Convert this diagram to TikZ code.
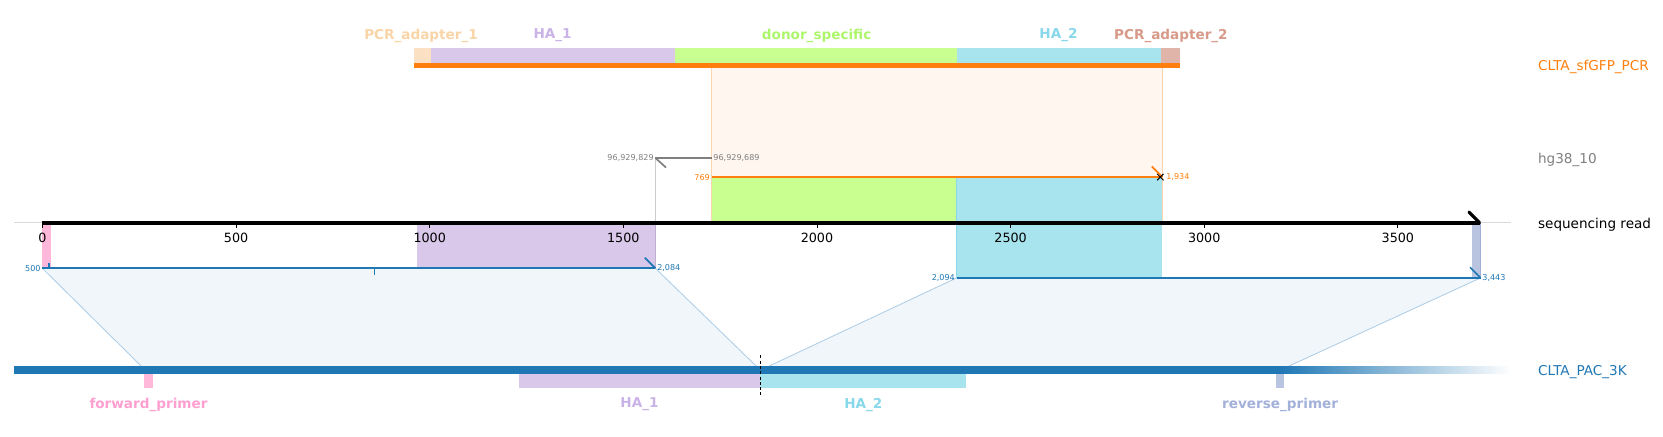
\documentclass[tikz,border=0pt]{standalone}
\usepackage{fontspec}
\setmainfont{DejaVu Sans}
\usepackage{xcolor}
\usetikzlibrary{positioning}

\definecolor{seqblue}{HTML}{1F77B4}
\definecolor{pcrorange}{HTML}{FF7F0E}
\definecolor{hggray}{HTML}{7F7F7F}
\definecolor{adaptone}{HTML}{FBE0C3}
\definecolor{adaptonetxt}{HTML}{F9D4A6}
\definecolor{haone}{HTML}{D9C8EA}
\definecolor{haonetxt}{HTML}{C9B2E6}
\definecolor{donor}{HTML}{C8FF90}
\definecolor{donortxt}{HTML}{ADF56A}
\definecolor{hatwo}{HTML}{A8E4EE}
\definecolor{hatwotxt}{HTML}{86D8EA}
\definecolor{adapttwo}{HTML}{E0B4A8}
\definecolor{adapttwotxt}{HTML}{D89A88}
\definecolor{fwd}{HTML}{FFB8DA}
\definecolor{fwdtxt}{HTML}{FF9FD0}
\definecolor{rev}{HTML}{B8C4E0}
\definecolor{revtxt}{HTML}{A2B0DA}
\definecolor{alnfill}{HTML}{F1F6FA}
\definecolor{alnedge}{HTML}{AECDE6}
\definecolor{pcrfill}{HTML}{FFF6EF}
\definecolor{pcredge}{HTML}{FFD3AE}

\begin{document}
\begin{tikzpicture}[x=1pt, y=-1pt,
    featlabel/.style={font=\fontsize{12.8}{14}\selectfont\bfseries, inner sep=0pt, yshift=-1.5pt},
    tracklabel/.style={font=\fontsize{12.8}{14}\selectfont, anchor=west, inner sep=0pt, yshift=-1.5pt},
    ticklabel/.style={font=\fontsize{12}{13}\selectfont, anchor=north, inner sep=0pt, yshift=-4pt},
    poslabel/.style={font=\fontsize{7.6}{8}\selectfont, inner sep=1.5pt},
    hook/.style={line width=1.6pt},
    alnline/.style={seqblue, line width=1.6pt}
]
    \useasboundingbox (0,0) rectangle (1568,412);

    % PCR product projected on the read
    \fill[pcrfill] (671,64) rectangle (1096,167);
    \fill[donor] (671,167) rectangle (902,210);
    \fill[hatwo] (902,167) rectangle (1096,262);
    \draw[pcredge, line width=0.8pt] (671,64) -- (671,210);
    \draw[pcredge, line width=0.8pt] (1096,64) -- (1096,210);
    \draw[black!20, line width=0.8pt] (618,149) -- (618,210);

    % Regions of the read below the axis
    \fill[fwd] (40,210) rectangle (48,253);
    \fill[haone] (393,210) rectangle (618,253);
    \draw[haonetxt!80!black!70, line width=0.6pt] (618,210) -- (618,253);
    \draw[hatwotxt, line width=0.6pt] (902,167) -- (902,262);
    \fill[rev] (1388,210) rectangle (1396,262);
    \draw[revtxt, line width=0.8pt] (1396,210) -- (1396,262);

    % Alignments onto CLTA_PAC_3K
    \coordinate (a1s) at (40,253);
    \coordinate (a1e) at (618,253);
    \coordinate (b1s) at (137,349);
    \coordinate (b1e) at (717,349);
    \coordinate (a2s) at (902,262);
    \coordinate (a2e) at (1396,262);
    \coordinate (b2e) at (1207,349);
    \fill[alnfill] (a1s) -- (a1e) -- (b1e) -- (b1s) -- cycle;
    \fill[alnfill] (a2s) -- (a2e) -- (b2e) -- (b1e) -- cycle;
    \draw[alnedge, line width=0.8pt] (a1s) -- (b1s);
    \draw[alnedge, line width=0.8pt] (a1e) -- (b1e);
    \draw[alnedge, line width=0.8pt] (a2s) -- (b1e);
    \draw[alnedge, line width=0.8pt] (a2e) -- (b2e);

    \draw[alnline] (a1s) -- (a1e);
    \draw[alnline] (a1e) -- ++(-10,-10);
    \draw[alnline] (46,253) -- ++(0,-5);
    \draw[alnline] (353,253) -- ++(0,6);
    \draw[alnline] (a2s) -- (a2e);
    \draw[alnline] (a2e) -- ++(-10,-10);
    \node[poslabel, anchor=east, text=seqblue] (p500) at (a1s) {500};
    \node[poslabel, anchor=west, text=seqblue] (p2084) at (a1e) {2,084};
    \node[poslabel, anchor=east, text=seqblue] (p2094) at (a2s) {2,094};
    \node[poslabel, anchor=west, text=seqblue] (p3443) at (a2e) {3,443};

    % hg38_10 alignment
    \coordinate (h1) at (618,149);
    \coordinate (h2) at (671,149);
    \draw[hggray, hook] (h1) -- (h2);
    \draw[hggray, hook] (h1) -- ++(10,9);
    \node[poslabel, anchor=east, text=hggray] (g829) at (h1) {96,929,829};
    \node[poslabel, anchor=west, text=hggray] (g689) at (h2) {96,929,689};

    % CLTA_sfGFP_PCR alignment
    \coordinate (o1) at (671,167);
    \coordinate (o2) at (1096,167);
    \draw[pcrorange, hook] (o1) -- (o2);
    \draw[pcrorange, hook] (o2) -- ++(-10,-10);
    \draw[black, line width=0.9pt] (1091,164) -- (1097,170) (1091,170) -- (1097,164);
    \node[poslabel, anchor=east, text=pcrorange] (o769) at (o1) {769};
    \node[poslabel, anchor=west, text=pcrorange] (o1934) at (1098,167) {1,934};

    % Sequencing read axis
    \draw[black!15, line width=0.8pt] (13,210) -- (1425,210);
    \draw[black, line width=3.5pt] (40,210) -- (1395,210);
    \draw[black, line width=3pt, line cap=round] (1395,210) -- (1385,200);
    \foreach \v in {0,500,...,3500}{
        \pgfmathsetmacro{\tx}{40+0.36514*\v}
        \draw[black, line width=0.8pt] (\tx,211) -- (\tx,215) node[ticklabel] {\v};
    }

    % Top construct
    \fill[adaptone] (390,45) rectangle (406,60);
    \fill[haone] (406,45) rectangle (636,60);
    \fill[donor] (636,45) rectangle (902,60);
    \fill[hatwo] (902,45) rectangle (1095,60);
    \fill[adapttwo] (1095,45) rectangle (1113,60);
    \fill[pcrorange] (390,59.5) rectangle (1113,64.5);
    \node[featlabel, text=adaptonetxt] (adapt1) at (397,32) {PCR\_adapter\_1};
    \node[featlabel, text=haonetxt] (ha1top) at (521,32) {HA\_1};
    \node[featlabel, text=donortxt] (donorlab) at (770,32) {donor\_specific};
    \node[featlabel, text=hatwotxt] (ha2top) at (998,32) {HA\_2};
    \node[featlabel, text=adapttwotxt] (adapt2) at (1104,32) {PCR\_adapter\_2};

    % Bottom reference
    \fill[seqblue] (13,345.5) rectangle (1207,352.5);
    \shade[left color=seqblue, right color=white] (1207,345.5) rectangle (1425,352.5);
    \fill[fwd] (136,352.5) rectangle (144,366);
    \fill[haone] (489,352.5) rectangle (717,366);
    \fill[hatwo] (717,352.5) rectangle (911,366);
    \fill[rev] (1203,352.5) rectangle (1211,366);
    \draw[black, line width=0.9pt, dash pattern=on 3pt off 2pt] (717,335) -- (717,372);
    \node[featlabel, text=fwdtxt] (fwdlab) at (140,380) {forward\_primer};
    \node[featlabel, text=haonetxt] (ha1bot) at (603,380) {HA\_1};
    \node[featlabel, text=hatwotxt] (ha2bot) at (814,380) {HA\_2};
    \node[featlabel, text=revtxt] (revlab) at (1207,380) {reverse\_primer};

    % Track names
    \node[tracklabel, text=pcrorange] (tpcr) at (1450,62) {CLTA\_sfGFP\_PCR};
    \node[tracklabel, text=hggray] (thg) at (1450,149) {hg38\_10};
    \node[tracklabel, text=black] (tread) at (1450,210) {sequencing read};
    \node[tracklabel, text=seqblue] (tpac) at (1450,349) {CLTA\_PAC\_3K};

\end{tikzpicture}
\end{document}
